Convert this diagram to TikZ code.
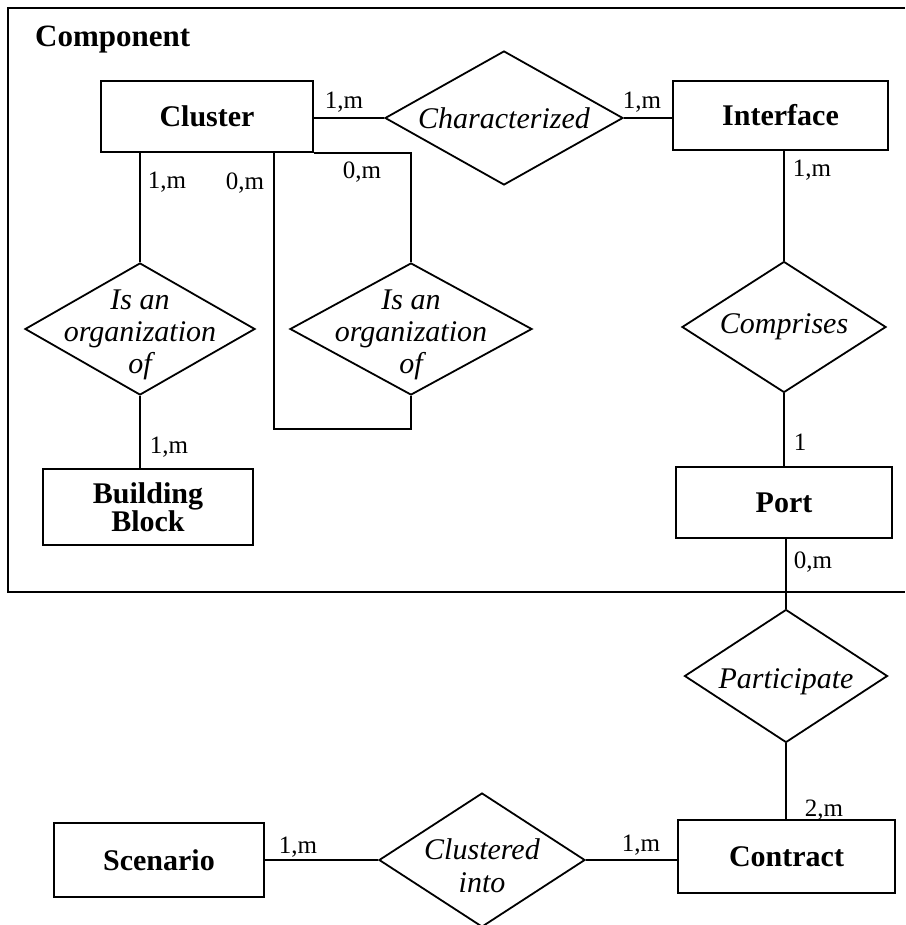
\documentclass[tikz,border=0pt]{standalone}
\usepackage{fontspec}
\setmainfont{Liberation Serif}
\usetikzlibrary{shapes.geometric}

\tikzset{
  entity/.style={draw, line width=2pt, rectangle, inner sep=0pt,
    font=\bfseries\fontsize{30}{23}\selectfont, align=center},
  rel/.style={draw, line width=1.8pt, diamond, inner sep=0pt},
  reltext/.style={font=\itshape\fontsize{30}{30}\selectfont, align=center, inner sep=0pt},
  card/.style={font=\fontsize{25}{25}\selectfont, inner sep=0pt},
  conn/.style={line width=1.6pt}
}

\begin{document}
\begin{tikzpicture}[x=1pt, y=-1pt]
      \useasboundingbox (0,0) rectangle (905,925);
      % component frame, open to the right
      \draw[line width=2pt] (905,8) -| (8,592) -- (905,592);
      \node[font=\bfseries\fontsize{31}{31}\selectfont, anchor=base west, inner sep=0pt] (comp) at (35,47) {Component};
      % entities
      \node[entity, minimum width=212pt, minimum height=71pt] (cluster) at (207,116.5) {Cluster};
      \node[entity, minimum width=215pt, minimum height=69pt] (iface) at (780.5,115.5) {Interface};
      \node[entity, minimum width=210pt, minimum height=76pt] (bblock) at (148,507) {Building\\Block};
      \node[entity, minimum width=216pt, minimum height=71pt] (port) at (784,502.5) {Port};
      \node[entity, minimum width=210pt, minimum height=74pt] (scen) at (159,860) {Scenario};
      \node[entity, minimum width=217pt, minimum height=73pt] (contr) at (786.5,856.5) {Contract};
      % relationships
      \node[rel, minimum width=238pt, minimum height=134pt, label={[name=charzt, reltext]center:Characterized}] (charz) at (504,118) {};
      \node[rel, minimum width=230pt, minimum height=132pt, label={[name=orgat, reltext, yshift=-6pt, font=\itshape\fontsize{30}{32}\selectfont]center:Is an\\organization\\of}] (orga) at (140,329) {};
      \node[rel, minimum width=242pt, minimum height=132pt, label={[name=orgbt, reltext, yshift=-6pt, font=\itshape\fontsize{30}{32}\selectfont]center:Is an\\organization\\of}] (orgb) at (411,329) {};
      \node[rel, minimum width=204pt, minimum height=131pt, label={[name=comprt, reltext]center:Comprises}] (compr) at (784,327) {};
      \node[rel, minimum width=203pt, minimum height=133pt, label={[name=partict, reltext, yshift=-6pt]center:Participate}] (partic) at (786,676) {};
      \node[rel, minimum width=206pt, minimum height=134pt, label={[name=clustt, reltext, yshift=-6pt, font=\itshape\fontsize{30}{33}\selectfont]center:Clustered\\into}] (clust) at (482,860) {};
      % connectors
      \draw[conn] (charz.west) -- (charz.west -| cluster.east);
      \draw[conn] (charz.east) -- (charz.east -| iface.west);
      \draw[conn] (compr.north) -- (compr.north |- iface.south);
      \draw[conn] (compr.south) -- (compr.south |- port.north);
      \draw[conn] (partic.north) -- (partic.north |- port.south);
      \draw[conn] (partic.south) -- (partic.south |- contr.north);
      \draw[conn] (clust.east) -- (clust.east -| contr.west);
      \draw[conn] (clust.west) -- (clust.west -| scen.east);
      \draw[conn] (orga.north) -- (orga.north |- cluster.south);
      \draw[conn] (orga.south) -- (orga.south |- bblock.north);
      \draw[conn] (cluster.south east) -| (orgb.north);
      \draw[conn] (orgb.south) -- ++(0,33) -| ([xshift=-40pt]cluster.south east);
      % cardinalities
      \node[card] (c1) at (344,102) {1,m};
      \node[card] (c2) at (642,102) {1,m};
      \node[card] (c3) at (812,170) {1,m};
      \node[card] (c4) at (167,182) {1,m};
      \node[card] (c5) at (245,183) {0,m};
      \node[card] (c6) at (362,172) {0,m};
      \node[card] (c7) at (169,447) {1,m};
      \node[card] (c8) at (800,442) {1};
      \node[card] (c9) at (813,562) {0,m};
      \node[card] (c10) at (824,810) {2,m};
      \node[card] (c11) at (641,845) {1,m};
      \node[card] (c12) at (298,847) {1,m};
    \end{tikzpicture}
\end{document}
